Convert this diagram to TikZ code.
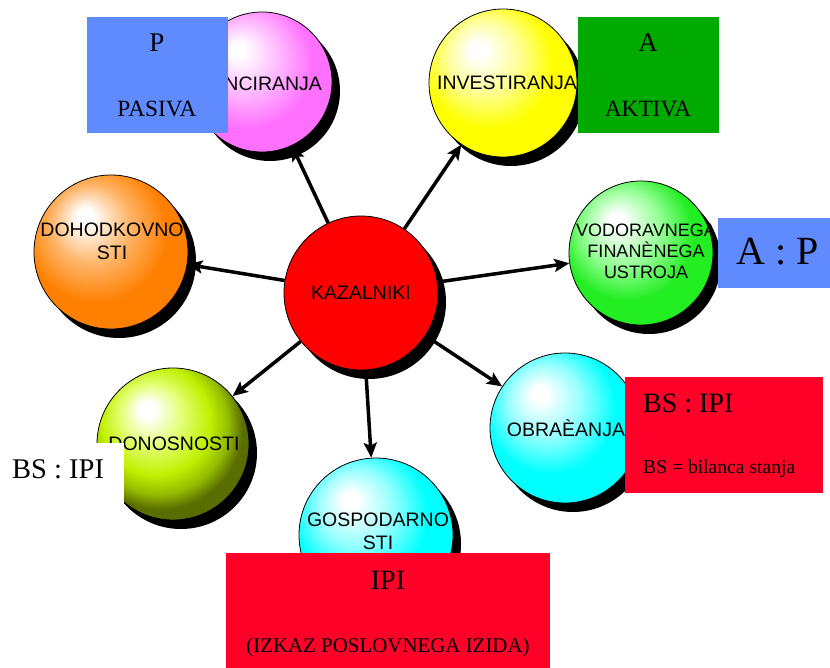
\documentclass[tikz,border=0pt]{standalone}
\usepackage{fontspec}
\setmainfont{Liberation Serif}
\newfontfamily\arialfont{Liberation Sans}
\usetikzlibrary{arrows.meta,shadows}

% ball colours
\definecolor{pinkedge}{HTML}{FF70FF}
\definecolor{pinkmid}{HTML}{FFB8FF}
\definecolor{yellowedge}{HTML}{FFFF00}
\definecolor{yellowmid}{HTML}{FFFF99}
\definecolor{greenedge}{HTML}{22EE22}
\definecolor{greenmid}{HTML}{99FF99}
\definecolor{cyanedge}{HTML}{00FFFF}
\definecolor{cyanmid}{HTML}{99FFFF}
\definecolor{orangeedge}{HTML}{FF8000}
\definecolor{orangemid}{HTML}{FFB366}
\definecolor{oliveedge}{HTML}{5A6E00}
\definecolor{olivedark}{HTML}{94BB00}
\definecolor{olivemain}{HTML}{C0F000}
\definecolor{olivemid}{HTML}{E4FF77}
\definecolor{kazred}{HTML}{FF0000}
% box colours
\definecolor{boxblue}{HTML}{5F8BFF}
\definecolor{boxgreen}{HTML}{00AA00}
\definecolor{boxred}{HTML}{FF0028}

% sphere shadings (ball rim at 25bp), highlight up and to the left
\pgfdeclareradialshading{ballpink}{\pgfpoint{-9bp}{12bp}}{color(0bp)=(white); color(2.5bp)=(white); color(13bp)=(pinkmid); color(23bp)=(pinkedge); color(50bp)=(pinkedge)}
\pgfdeclareradialshading{ballyellow}{\pgfpoint{-9bp}{12bp}}{color(0bp)=(white); color(2.5bp)=(white); color(12bp)=(yellowmid); color(22bp)=(yellowedge); color(50bp)=(yellowedge)}
\pgfdeclareradialshading{ballgreen}{\pgfpoint{-9bp}{12bp}}{color(0bp)=(white); color(2.5bp)=(white); color(13bp)=(greenmid); color(23bp)=(greenedge); color(50bp)=(greenedge)}
\pgfdeclareradialshading{ballcyan}{\pgfpoint{-9bp}{12bp}}{color(0bp)=(white); color(2.5bp)=(white); color(12bp)=(cyanmid); color(22bp)=(cyanedge); color(50bp)=(cyanedge)}
\pgfdeclareradialshading{ballorange}{\pgfpoint{-9bp}{12bp}}{color(0bp)=(white); color(2.5bp)=(white); color(13bp)=(orangemid); color(23bp)=(orangeedge); color(50bp)=(orangeedge)}
\pgfdeclareradialshading{ballolive}{\pgfpoint{-9bp}{12bp}}{color(0bp)=(white); color(2.5bp)=(white); color(10bp)=(olivemid); color(18bp)=(olivemain); color(23bp)=(olivedark); color(27bp)=(oliveedge); color(50bp)=(oliveedge)}

\begin{document}
\begin{tikzpicture}[x=1pt,y=-1pt,
  ball/.style={circle, draw=black, line width=0.8pt, inner sep=0pt,
    drop shadow={shadow xshift=8pt, shadow yshift=-9pt, opacity=1, fill=black}},
  balltext/.style={font=\arialfont\fontsize{19.5}{23}\selectfont, inner sep=0pt, align=center},
  link/.style={line width=3.5pt, -{Stealth[length=15pt,width=13pt,inset=3pt]}},
  panel/.style={inner sep=0pt, draw=none},
  paneltext/.style={inner sep=0pt}
]
\useasboundingbox (0,0) rectangle (830,668);

% balls
\node[ball, shading=ballpink,   minimum size=140pt] (fin) at (262,82)  {};
\node[ball, shading=ballyellow, minimum size=148pt] (inv) at (503,83)  {};
\node[ball, shading=ballgreen,  minimum size=144pt] (vod) at (641,253) {};
\node[ball, shading=ballcyan,   minimum size=150pt] (obr) at (565,428) {};
\node[ball, shading=ballcyan,   minimum size=154pt] (gos) at (376,535) {};
\node[ball, shading=ballolive,  minimum size=152pt] (don) at (173,444) {};
\node[ball, shading=ballorange, minimum size=154pt] (doh) at (111,252) {};
\node[ball, fill=kazred,        minimum size=154pt] (kaz) at (361,293) {};

% arrows from the centre
\foreach \t in {fin,inv,vod,obr,gos,don,doh}
  \draw[link] (kaz) -- (\t);

% ball labels
\node[balltext, anchor=base] (tkaz) at (361,300) {KAZALNIKI};
\node[balltext, anchor=base] (tfin) at (251,91) {FINANCIRANJA};
\node[balltext, anchor=base] (tinv) at (507,90) {INVESTIRANJA};
\node[balltext, font=\arialfont\fontsize{18}{21}\selectfont] (tvod) at (646,251) {VODORAVNEGA\\FINANÈNEGA\\USTROJA};
\node[balltext, anchor=base] (tobr) at (566,436) {OBRAÈANJA};
\node[balltext] (tgos) at (378,531) {GOSPODARNO\\STI};
\node[balltext, anchor=base] (tdon) at (174,450) {DONOSNOSTI};
\node[balltext] (tdoh) at (112,241) {DOHODKOVNO\\STI};

% panels
\node[panel, fill=boxblue,  minimum width=141pt, minimum height=116pt] (pbox)   at (157.5,75)  {};
\node[panel, fill=boxgreen, minimum width=141pt, minimum height=116pt] (abox)   at (648.5,75)  {};
\node[panel, fill=boxblue,  minimum width=112pt, minimum height=70pt]  (apbox)  at (774,253)   {};
\node[panel, fill=boxred,   minimum width=198pt, minimum height=116pt] (bsbox)  at (724,435)   {};
\node[panel, fill=boxred,   minimum width=324pt, minimum height=116pt] (ipibox) at (388,611)   {};
\node[panel, fill=white,    minimum width=124pt, minimum height=82pt]  (wbox)   at (62,484)    {};

% panel texts
\node[paneltext, anchor=base, font=\fontsize{27}{30}\selectfont] (tp) at (157,52) {P};
\node[paneltext, anchor=base, font=\fontsize{23.3}{26}\selectfont] (tpas) at (157,117) {PASIVA};
\node[paneltext, anchor=base, font=\fontsize{27}{30}\selectfont] (ta) at (648,52) {A};
\node[paneltext, anchor=base, font=\fontsize{23.3}{26}\selectfont] (takt) at (648,117) {AKTIVA};
\node[paneltext, anchor=base, font=\fontsize{40}{44}\selectfont] (tap) at (778,265) {A : P};
\node[paneltext, anchor=base west, font=\fontsize{28}{31}\selectfont] (tbs) at (643,412) {BS : IPI};
\node[paneltext, anchor=base west, font=\fontsize{19.6}{22}\selectfont] (tbsdef) at (643,473) {BS = bilanca stanja};
\node[paneltext, anchor=base, font=\fontsize{28}{31}\selectfont] (tipi) at (388,589) {IPI};
\node[paneltext, anchor=base, font=\fontsize{20.9}{24}\selectfont] (tipidef) at (388,652) {(IZKAZ POSLOVNEGA IZIDA)};
\node[paneltext, anchor=base west, font=\fontsize{28.5}{31}\selectfont] (tbsl) at (12,478) {BS : IPI};
\end{tikzpicture}
\end{document}
